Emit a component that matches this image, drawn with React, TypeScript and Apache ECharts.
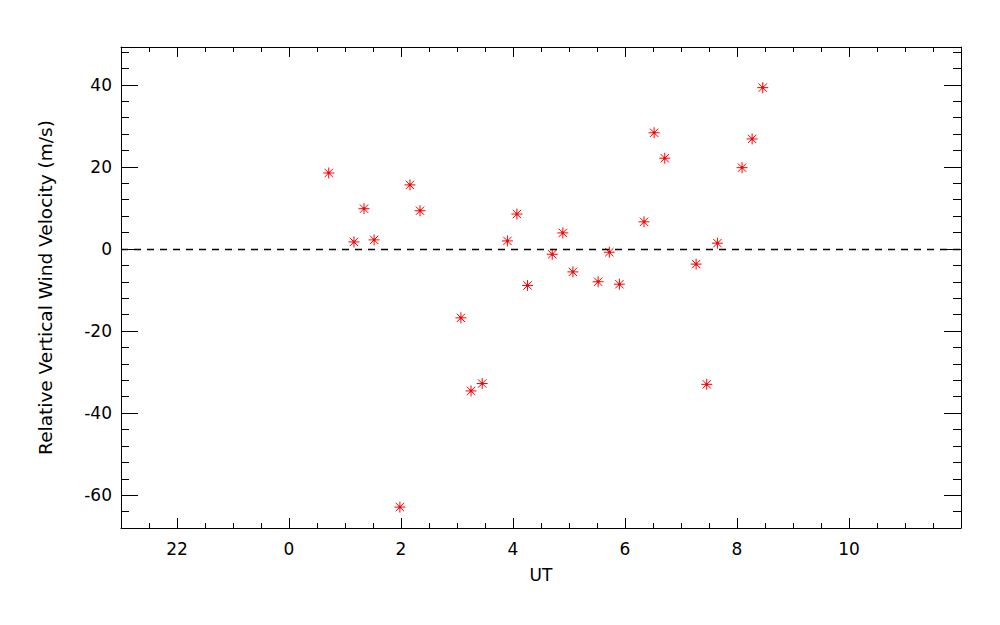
import React, { useEffect, useRef } from "react";
import * as echarts from "echarts";

// UT hours (values before midnight are negative: -2 = 22 UT)
const utHours = [
  0.71, 1.16, 1.34, 1.52, 1.98, 2.16, 2.34, 3.07, 3.25, 3.45, 3.9, 4.07, 4.26, 4.7,
  4.89, 5.07, 5.52, 5.72, 5.9, 6.34, 6.52, 6.71, 7.27, 7.46, 7.65, 8.09, 8.27, 8.46,
];
const windVelocity = [
  18.5, 1.7, 9.8, 2.2, -62.9, 15.6, 9.3, -16.8, -34.6, -32.8, 1.95, 8.5, -8.9, -1.3,
  3.9, -5.6, -8.0, -0.8, -8.6, 6.6, 28.3, 22.1, -3.7, -33.0, 1.4, 19.8, 26.8, 39.3,
];
const xMajorTicks = [-2, 0, 2, 4, 6, 8, 10];
const xMinorTicks = [
  -2.5, -2, -1.5, -1, -0.5, 0, 0.5, 1, 1.5, 2, 2.5, 3, 3.5, 4, 4.5, 5, 5.5, 6, 6.5, 7,
  7.5, 8, 8.5, 9, 9.5, 10, 10.5, 11, 11.5,
];
const yMajorTicks = [-60, -40, -20, 0, 20, 40];
const yMinorTicks = [
  -64, -60, -56, -52, -48, -44, -40, -36, -32, -28, -24, -20, -16, -12, -8, -4, 0, 4, 8,
  12, 16, 20, 24, 28, 32, 36, 40, 44, 48,
];
const X_MIN = -3;
const X_MAX = 12;
const Y_MIN = -68;
const Y_MAX = 49.2;

const FONT = "DejaVu Sans";
const starPath =
  "path://M5,0L5,10M0,5L10,5M1.2,1.2L8.8,8.8M1.2,8.8L8.8,1.2M4.2,4.2L5.8,4.2L5.8,5.8L4.2,5.8Z";

export default function App() {
  const ref = useRef<HTMLDivElement>(null);
  useEffect(() => {
    if (!ref.current) return;
    const chart = echarts.init(ref.current, undefined, { renderer: "svg" });
    const lineStyle = { color: "#000", width: 1 };
    const xAxisBase = (position: string, major: boolean, showLine: boolean, labels: boolean) => ({
      type: "value",
      position,
      min: X_MIN,
      max: X_MAX,
      axisLine: { show: showLine, onZero: false, lineStyle },
      splitLine: { show: false },
      axisTick: {
        show: true,
        inside: true,
        length: major ? 10 : 5,
        lineStyle,
        customValues: major ? xMajorTicks : xMinorTicks,
      },
      axisLabel: {
        show: labels,
        customValues: major ? xMajorTicks : xMinorTicks,
        formatter: (v: number) => String(v < 0 ? v + 24 : v),
        color: "#000",
        fontFamily: FONT,
        fontSize: 17,
        margin: 12,
      },
    });
    const yAxisBase = (position: string, major: boolean, showLine: boolean, labels: boolean) => ({
      type: "value",
      position,
      min: Y_MIN,
      max: Y_MAX,
      axisLine: { show: showLine, onZero: false, lineStyle },
      splitLine: { show: false },
      axisTick: {
        show: true,
        inside: true,
        length: major ? 17 : 8,
        lineStyle,
        customValues: major ? yMajorTicks : yMinorTicks,
      },
      axisLabel: {
        show: labels,
        customValues: major ? yMajorTicks : yMinorTicks,
        color: "#000",
        fontFamily: FONT,
        fontSize: 17,
        margin: 9,
      },
    });
    const xMain: any = xAxisBase("bottom", true, true, true);
    xMain.name = "UT";
    xMain.nameLocation = "middle";
    xMain.nameGap = 38;
    xMain.nameTextStyle = { color: "#000", fontFamily: FONT, fontSize: 17 };
    const yMain: any = yAxisBase("left", true, true, true);
    yMain.name = "Relative Vertical Wind Velocity (m/s)";
    yMain.nameLocation = "middle";
    yMain.nameGap = 66;
    yMain.nameTextStyle = { color: "#000", fontFamily: FONT, fontSize: 18.5 };

    chart.setOption({
      animation: false,
      backgroundColor: "#fff",
      grid: { left: 121, right: 39, top: 47, bottom: 97, containLabel: false },
      xAxis: [
        xMain,
        xAxisBase("bottom", false, false, false),
        xAxisBase("top", true, true, false),
        xAxisBase("top", false, false, false),
      ],
      yAxis: [
        yMain,
        yAxisBase("left", false, false, false),
        yAxisBase("right", true, true, false),
        yAxisBase("right", false, false, false),
      ],
      series: [
        {
          type: "scatter",
          xAxisIndex: 0,
          yAxisIndex: 0,
          data: utHours.map((x, i) => [x, windVelocity[i]]),
          symbol: starPath,
          symbolSize: 11,
          itemStyle: { color: "#ff0000", borderColor: "#ff0000", borderWidth: 1, opacity: 1 },
          emphasis: { disabled: true },
          markLine: {
            silent: true,
            symbol: "none",
            label: { show: false },
            lineStyle: { color: "#000", width: 1.3, type: [7, 6] },
            data: [{ yAxis: 0 }],
          },
        },
      ],
    });
    return () => chart.dispose();
  }, []);
  return <div ref={ref} style={{ width: 1000, height: 625, position: "absolute", left: 0, top: 0 }} />;
}
